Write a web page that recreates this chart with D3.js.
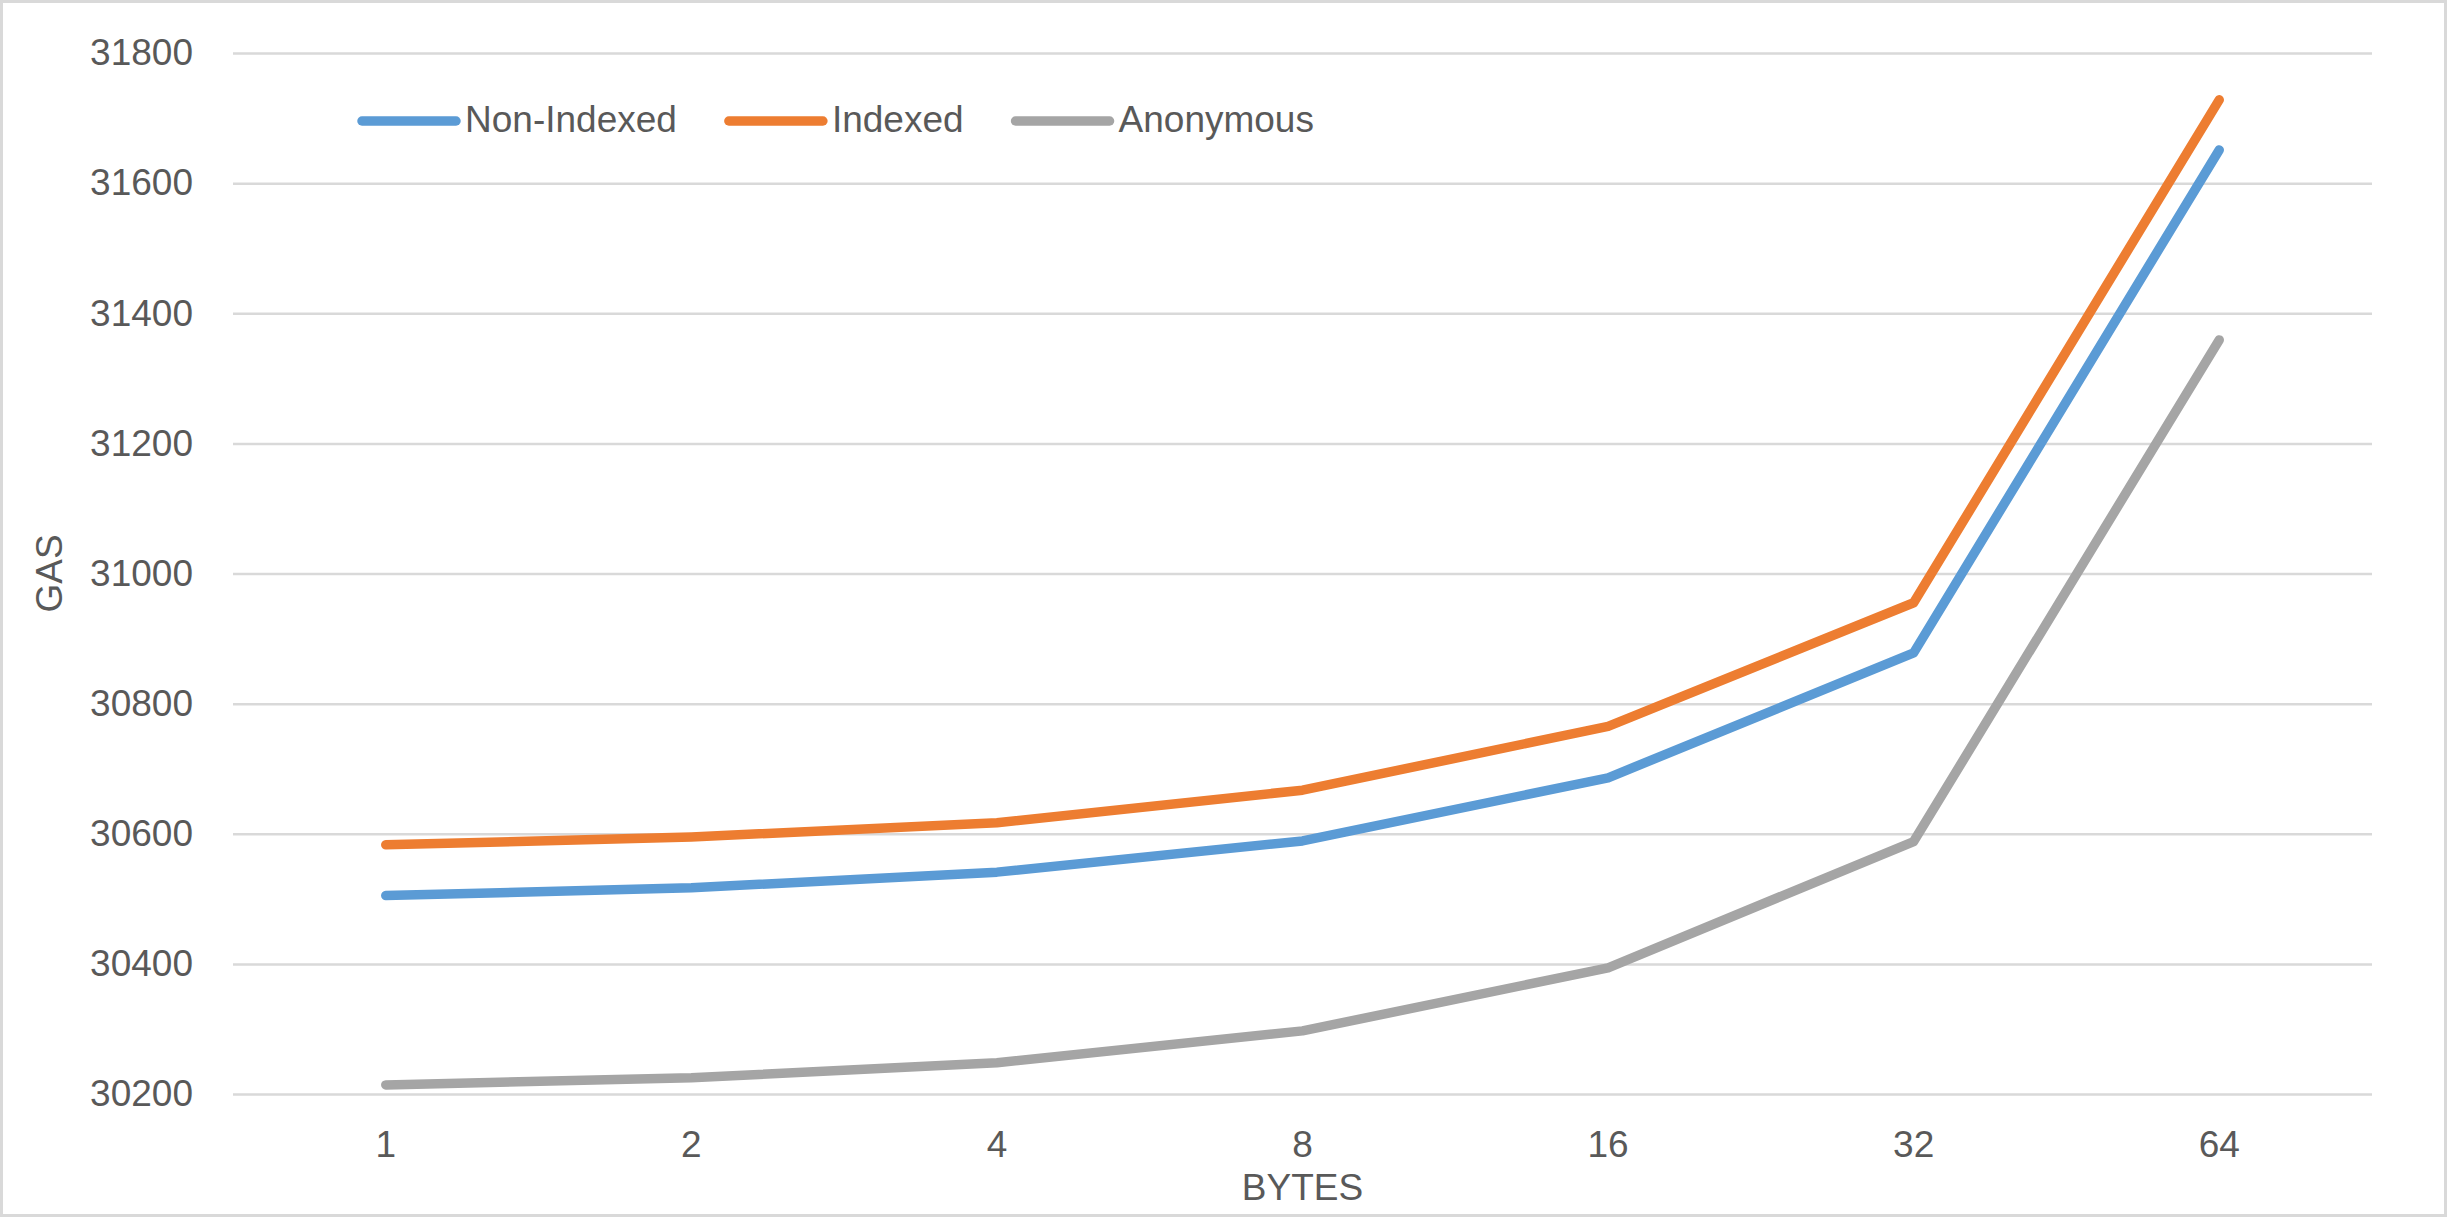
<!DOCTYPE html>
<html>
<head>
<meta charset="utf-8">
<script src="https://cdn.jsdelivr.net/npm/d3@7"></script>
<style>
  html, body { margin: 0; padding: 0; background: #fff; }
  svg { display: block; }
  text { font-family: "Liberation Sans", Arial, sans-serif; fill: #595959; }
</style>
</head>
<body>
<svg id="chart" width="2447" height="1217"></svg>
<script>
// ---- data ----
const categories = ["1", "2", "4", "8", "16", "32", "64"];
const nonIndexed = [30505, 30517, 30541, 30589, 30686, 30878, 31651];
const indexed    = [30583, 30595, 30617, 30667, 30765, 30955, 31728];
const anonymous  = [30214, 30225, 30248, 30297, 30394, 30588, 31359];
const seriesNames = ["Non-Indexed", "Indexed", "Anonymous"];
const yTicks = [30200, 30400, 30600, 30800, 31000, 31200, 31400, 31600, 31800];
const xTitle = "BYTES";
const yTitle = "GAS";

// ---- layout ----
const W = 2447, H = 1217;
const plot = { left: 233, right: 2372, top: 53, bottom: 1094 };
const colors = ["#5B9BD5", "#ED7D31", "#A5A5A5"];
const fontSize = 37;

const svg = d3.select("#chart");

// outer border
svg.append("rect")
  .attr("x", 1.5).attr("y", 1.5)
  .attr("width", W - 3).attr("height", H - 3)
  .attr("fill", "#fff").attr("stroke", "#D9D9D9").attr("stroke-width", 3);

const x = d3.scaleBand().domain(categories).range([plot.left, plot.right]).padding(0);
const y = d3.scaleLinear().domain([30200, 31800]).range([plot.bottom, plot.top]);
const xc = c => x(c) + x.bandwidth() / 2;

// gridlines + y labels
const yAxis = d3.axisLeft(y).tickValues(yTicks).tickFormat(d3.format("d"))
  .tickSize(-(plot.right - plot.left)).tickPadding(40);
const gy = svg.append("g").attr("transform", `translate(${plot.left},0)`).call(yAxis);
gy.select(".domain").remove();
gy.selectAll(".tick line").attr("stroke", "#D9D9D9").attr("stroke-width", 2.5);
gy.selectAll(".tick text")
  .attr("font-size", fontSize).attr("fill", "#595959")
  .style("font-family", '"Liberation Sans", Arial, sans-serif');

// x labels
const xAxis = d3.axisBottom(x).tickSize(0).tickPadding(0);
const gx = svg.append("g").attr("transform", `translate(0,${plot.bottom})`).call(xAxis);
gx.select(".domain").remove();
gx.selectAll(".tick text")
  .attr("font-size", fontSize).attr("fill", "#595959")
  .attr("dy", null).attr("y", 63)
  .style("font-family", '"Liberation Sans", Arial, sans-serif');

// axis titles
svg.append("text")
  .attr("x", (plot.left + plot.right) / 2).attr("y", 1200)
  .attr("text-anchor", "middle").attr("font-size", fontSize)
  .text(xTitle);
svg.append("text")
  .attr("transform", `translate(62,${(plot.top + plot.bottom) / 2}) rotate(-90)`)
  .attr("text-anchor", "middle").attr("font-size", fontSize)
  .text(yTitle);

// lines
const allSeries = [nonIndexed, indexed, anonymous];
const line = d3.line().x((d, i) => xc(categories[i])).y(d => y(d));
svg.append("g").selectAll("path")
  .data(allSeries)
  .join("path")
  .attr("d", d => line(d))
  .attr("fill", "none")
  .attr("stroke", (d, i) => colors[i])
  .attr("stroke-width", 9.5)
  .attr("stroke-linecap", "round")
  .attr("stroke-linejoin", "round");

// legend
const legend = svg.append("g");
let lx = 362;
const ly = 121;
seriesNames.forEach((name, i) => {
  legend.append("line")
    .attr("x1", lx).attr("x2", lx + 94)
    .attr("y1", ly).attr("y2", ly)
    .attr("stroke", colors[i]).attr("stroke-width", 9.5)
    .attr("stroke-linecap", "round");
  const t = legend.append("text")
    .attr("x", lx + 103).attr("y", 132)
    .attr("font-size", fontSize)
    .text(name);
  lx = lx + 103 + t.node().getComputedTextLength() + 52;
});
</script>
</body>
</html>
